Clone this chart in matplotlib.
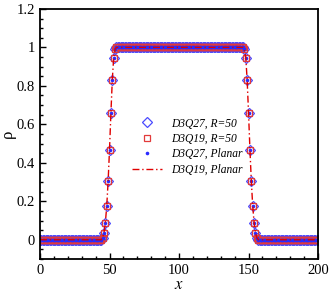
import numpy as np
import matplotlib
matplotlib.use("Agg")
import matplotlib.pyplot as plt
from matplotlib.ticker import MultipleLocator

plt.rcParams['font.family'] = ['Liberation Serif', 'DejaVu Serif']
plt.rcParams['mathtext.fontset'] = 'stix'

# lattice positions along the x axis
x = np.arange(0, 201)

# density profile (all four runs sit on top of each other)
rho_rise = [0.01, 0.036, 0.088, 0.175, 0.305, 0.469, 0.658, 0.831, 0.947, 0.99]   # x = 45..54
rho_fall = [0.99, 0.947, 0.831, 0.658, 0.469, 0.305, 0.175, 0.088, 0.036, 0.01]   # x = 147..156
rho = np.array([0.0] * 45 + rho_rise + [1.0] * 92 + rho_fall + [0.0] * 44)

rho_d3q27_r50 = rho
rho_d3q19_r50 = rho
rho_d3q27_planar = rho
rho_d3q19_planar = rho

labels = ['D3Q27, R=50', 'D3Q19, R=50', 'D3Q27, Planar', 'D3Q19, Planar']

fig = plt.figure(figsize=(3.32, 2.96), dpi=100)
ax = fig.add_axes([0.1205, 0.125, 0.8375, 0.845])

ax.plot(x, rho_d3q27_r50, linestyle='none', marker='D', ms=5, mfc='none',
        mec='#4a4aff', mew=0.9, label=labels[0])
ax.plot(x, rho_d3q19_r50, linestyle='none', marker='s', ms=4.8, mfc='none',
        mec='#e23a3a', mew=0.9, label=labels[1])
ax.plot(x, rho_d3q27_planar, linestyle='none', marker='o', ms=2.6,
        color='#2a2aff', mew=0, label=labels[2])
ax.plot(x, rho_d3q19_planar, linestyle=(0, (5, 2, 1, 2)), color='#e00000',
        lw=1.0, label=labels[3])

ax.set_xlim(0, 200)
ax.set_ylim(-0.1, 1.2)
ax.xaxis.set_major_locator(MultipleLocator(50))
ax.xaxis.set_minor_locator(MultipleLocator(10))
ax.yaxis.set_minor_locator(MultipleLocator(0.05))
ax.set_yticks([0, 0.2, 0.4, 0.6, 0.8, 1.0, 1.2])
ax.set_yticklabels(['0', '0.2', '0.4', '0.6', '0.8', '1', '1.2'])

ax.tick_params(which='both', direction='in', top=False, right=False,
               labelsize=10.5, width=1.0)
ax.tick_params(which='major', length=4)
ax.tick_params(which='minor', length=2.5)
for s in ax.spines.values():
    s.set_linewidth(1.3)

ax.set_xlabel('$x$', fontsize=12, labelpad=0)
ax.set_ylabel('ρ', fontsize=12, labelpad=1)

leg = ax.legend(loc='center left', bbox_to_anchor=(0.33, 0.45), frameon=False,
                prop={'style': 'italic', 'size': 8.3}, handlelength=2.6,
                labelspacing=0.3, handletextpad=0.8, borderpad=0, borderaxespad=0)

fig.savefig('out.png', dpi=100)
